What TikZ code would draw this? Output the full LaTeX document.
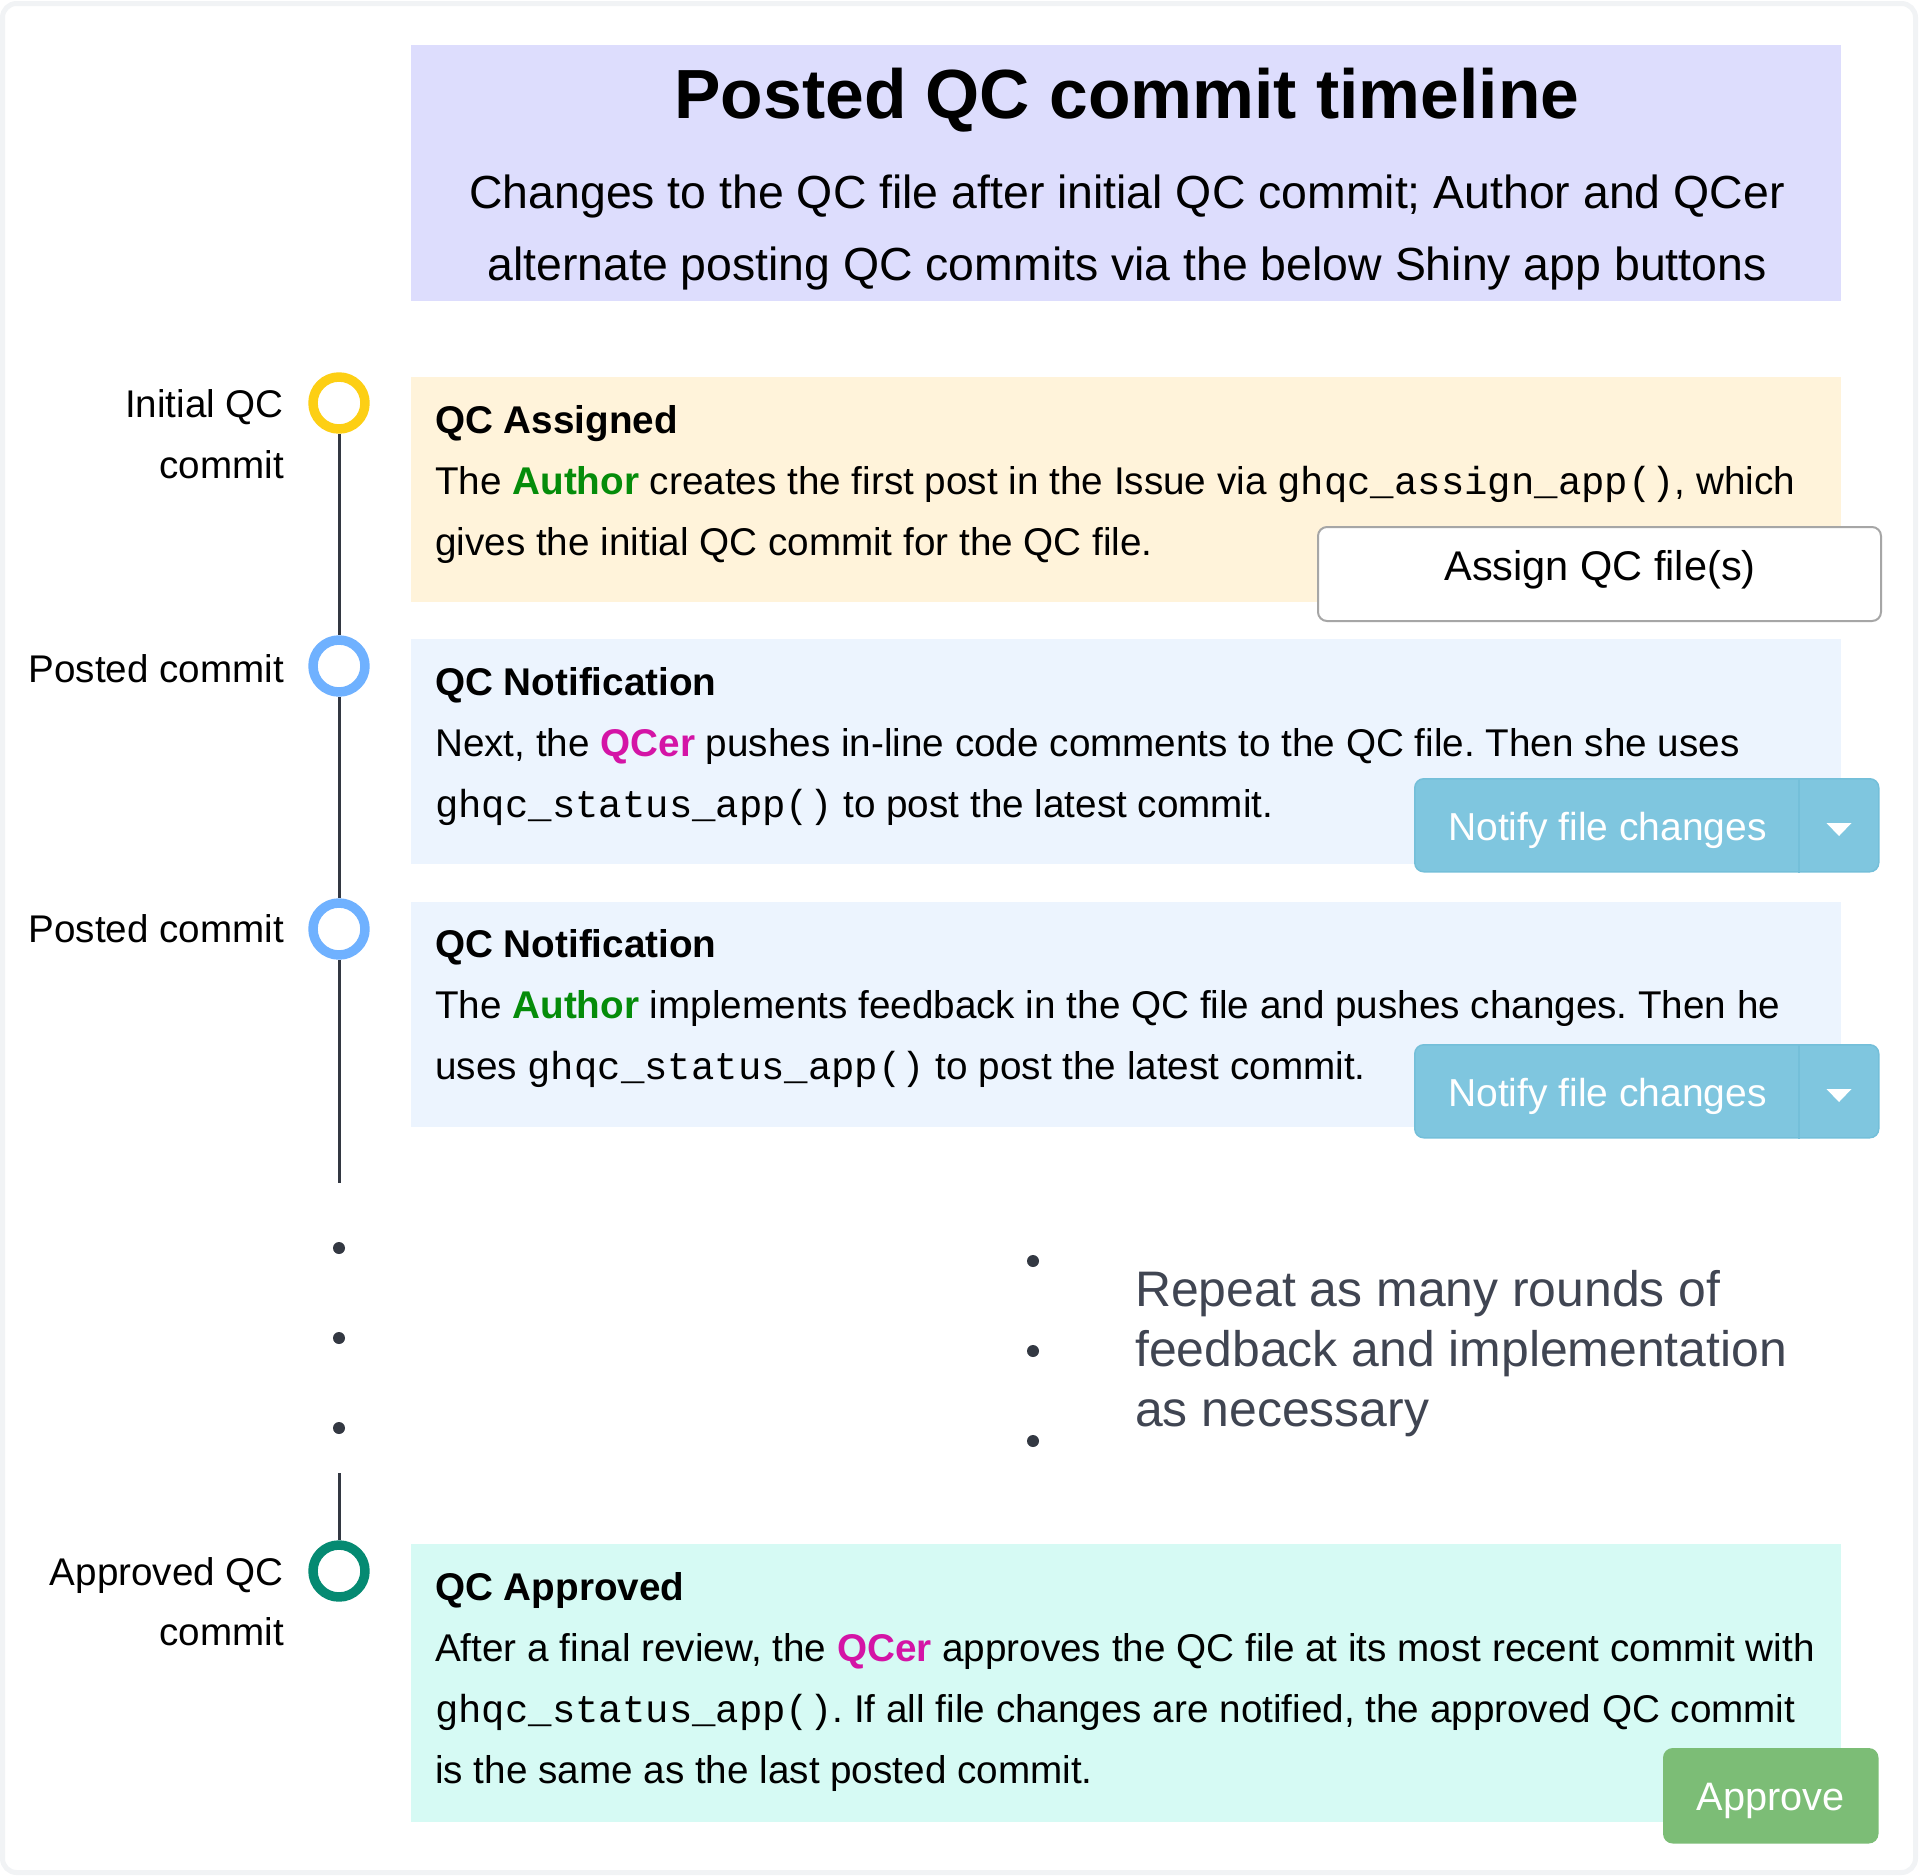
\documentclass[tikz,border=0pt]{standalone}
\usepackage{fontspec}
\setmainfont{Liberation Sans}
\setmonofont[Scale=1.008]{Liberation Mono}
\usetikzlibrary{calc}
\definecolor{framegray}{HTML}{F1F3F5}
\definecolor{titlebg}{HTML}{DDDDFD}
\definecolor{assignbg}{HTML}{FFF3DA}
\definecolor{notifybg}{HTML}{ECF4FE}
\definecolor{approvebg}{HTML}{D6FAF4}
\definecolor{ringyellow}{HTML}{FDCF14}
\definecolor{ringblue}{HTML}{6FB1FF}
\definecolor{ringgreen}{HTML}{058A72}
\definecolor{linedark}{HTML}{333842}
\definecolor{repeatgray}{HTML}{404552}
\definecolor{infoblue}{HTML}{7FC6DF}
\definecolor{infoedge}{HTML}{74BFD9}
\definecolor{okgreen}{HTML}{7CBD76}
\definecolor{authorgreen}{HTML}{058C0A}
\definecolor{qcermagenta}{HTML}{D414A6}
\newcommand{\authorname}{\textbf{\textcolor{authorgreen}{Author}}}
\newcommand{\qcername}{\textbf{\textcolor{qcermagenta}{QCer}}}
\tikzstyle{every path}=[line join=round]
\tikzstyle{card}=[anchor=north west,minimum width=1430pt,inner sep=0pt,outer sep=0pt]
\tikzstyle{cardtext}=[anchor=north west,inner sep=0pt,align=left,font=\fontsize{38.66}{61}\selectfont\frenchspacing]
\tikzstyle{ring}=[circle,draw,line width=9.5pt,fill=white,minimum size=52pt,inner sep=0pt,outer sep=4.75pt]
\tikzstyle{rail}=[line width=3pt,draw=linedark]
\tikzstyle{sidelabel}=[anchor=north east,inner sep=0pt,align=right,font=\fontsize{38.6}{60.5}\selectfont]
\tikzstyle{blob}=[circle,fill=linedark,minimum size=12pt,inner sep=0pt]
\tikzstyle{notifybtn}=[anchor=north west,rounded corners=9pt,fill=infoblue,draw=infoedge,line width=1.5pt,minimum width=464pt,minimum height=93pt,inner sep=0pt]
\tikzstyle{btnlabel}=[inner sep=0pt,text=white,font=\fontsize{39}{46}\selectfont]

\begin{document}
\begin{tikzpicture}[x=1pt,y=-1pt]
    \useasboundingbox (0,0) rectangle (1920,1875);
    \draw[framegray,line width=5pt,fill=white,rounded corners=14pt] (2.5,3.5) rectangle (1915.5,1872.5);

    % Title
    \node [card,fill=titlebg,minimum height=256pt] (title) at (411,45) {};
    \node [inner sep=0pt,anchor=base,font=\fontsize{69.6}{80}\selectfont\bfseries] (titletext) at (1127,118) {Posted QC commit timeline};
    \node [inner sep=0pt,anchor=north,align=center,font=\fontsize{46.4}{72}\selectfont\frenchspacing] (subtext) at (1127,175)
        {Changes to the QC file after initial QC commit; Author and QCer\\alternate posting QC commits via the below Shiny app buttons};

    % Cards
    \node [card,fill=assignbg,minimum height=225pt] (assigncard) at (411,377) {};
    \node [card,fill=notifybg,minimum height=225pt] (notifyA) at (411,639) {};
    \node [card,fill=notifybg,minimum height=225pt] (notifyB) at (411,902) {};
    \node [card,fill=approvebg,minimum height=278pt] (approvecard) at (411,1544) {};

    % Card texts
    \node [cardtext] (assigntext) at (435,405)
        {\textbf{QC Assigned}\\The \authorname{} creates the first post in the Issue via \texttt{ghqc\_assign\_app()}, which\\gives the initial QC commit for the QC file.};
    \node [cardtext] (notifyAtext) at (435,667)
        {\textbf{QC Notification}\\Next, the \qcername{} pushes in-line code comments to the QC file. Then she uses\\\texttt{ghqc\_status\_app()} to post the latest commit.};
    \node [cardtext] (notifyBtext) at (435,929.5)
        {\textbf{QC Notification}\\The \authorname{} implements feedback in the QC file and pushes changes. Then he\\uses \texttt{ghqc\_status\_app()} to post the latest commit.};
    \node [cardtext] (approvetext) at (435,1572.5)
        {\textbf{QC Approved}\\After a final review, the \qcername{} approves the QC file at its most recent commit with\\\texttt{ghqc\_status\_app()}. If all file changes are notified, the approved QC commit\\is the same as the last posted commit.};

    % Timeline rings
    \node [ring,draw=ringyellow] (initial) at (339,403) {};
    \node [ring,draw=ringblue] (postedA) at (339,666) {};
    \node [ring,draw=ringblue] (postedB) at (339,929) {};
    \node [ring,draw=ringgreen] (approved) at (339,1571) {};
    \coordinate (railend) at (339,1183);
    \coordinate (railstart) at (339,1473);
    \draw [rail] (initial) -- (postedA);
    \draw [rail] (postedA) -- (postedB);
    \draw [rail] (postedB) -- (railend);
    \draw [rail] (railstart) -- (approved);

    % Side labels
    \node [sidelabel] (initiallabel) at (284,389.5) {Initial QC\\commit};
    \node [sidelabel] (postedAlabel) at (284,654) {Posted commit};
    \node [sidelabel] (postedBlabel) at (284,914.5) {Posted commit};
    \node [sidelabel] (approvedlabel) at (284,1557) {Approved QC\\commit};

    % Dots
    \foreach \n/\y in {a/1248,b/1338,c/1428}
        \node [blob] (dot\n) at (339,\y) {};
    \foreach \n/\y in {a/1261,b/1351,c/1441}
        \node [blob] (gap\n) at (1033,\y) {};
    \node [inner sep=0pt,anchor=north west,align=left,text=repeatgray,font=\fontsize{49.9}{60}\selectfont] (repeattext) at (1135,1270)
        {Repeat as many rounds of\\feedback and implementation\\as necessary};

    % Buttons
    \node [anchor=north west,rounded corners=9pt,fill=white,draw=black!35,line width=2pt,minimum width=563pt,minimum height=94pt,inner sep=0pt] (assignbtn) at (1317,526) {};
    \node [inner sep=0pt,anchor=base,font=\fontsize{41.5}{46}\selectfont] (assignlabel) at (1600,580) {Assign QC file(s)};
    \foreach \n/\y in {A/778,B/1044} {
        \node [notifybtn] (btn\n) at (1414,\y) {};
        \node [btnlabel,anchor=base west] (btn\n label) at ($(btn\n.north west)+(34,62)$) {Notify file changes};
        \draw [infoedge,line width=1.5pt] ($(btn\n.north west)+(385,0)$) -- ($(btn\n.south west)+(385,0)$);
        \fill [white] ($(btn\n.north west)+(412.5,45)$) -- ++(25,0) -- ++(-12.5,13) -- cycle;
    }
    \node [anchor=north west,rounded corners=9pt,fill=okgreen,draw=okgreen,line width=1.5pt,minimum width=214pt,minimum height=94pt,inner sep=0pt] (approvebtn) at (1663,1748) {};
    \node [btnlabel,anchor=base,font=\fontsize{39.7}{46}\selectfont] (approvelabel) at (approvebtn.center |- 0,1810) {Approve};
\end{tikzpicture}
\end{document}
